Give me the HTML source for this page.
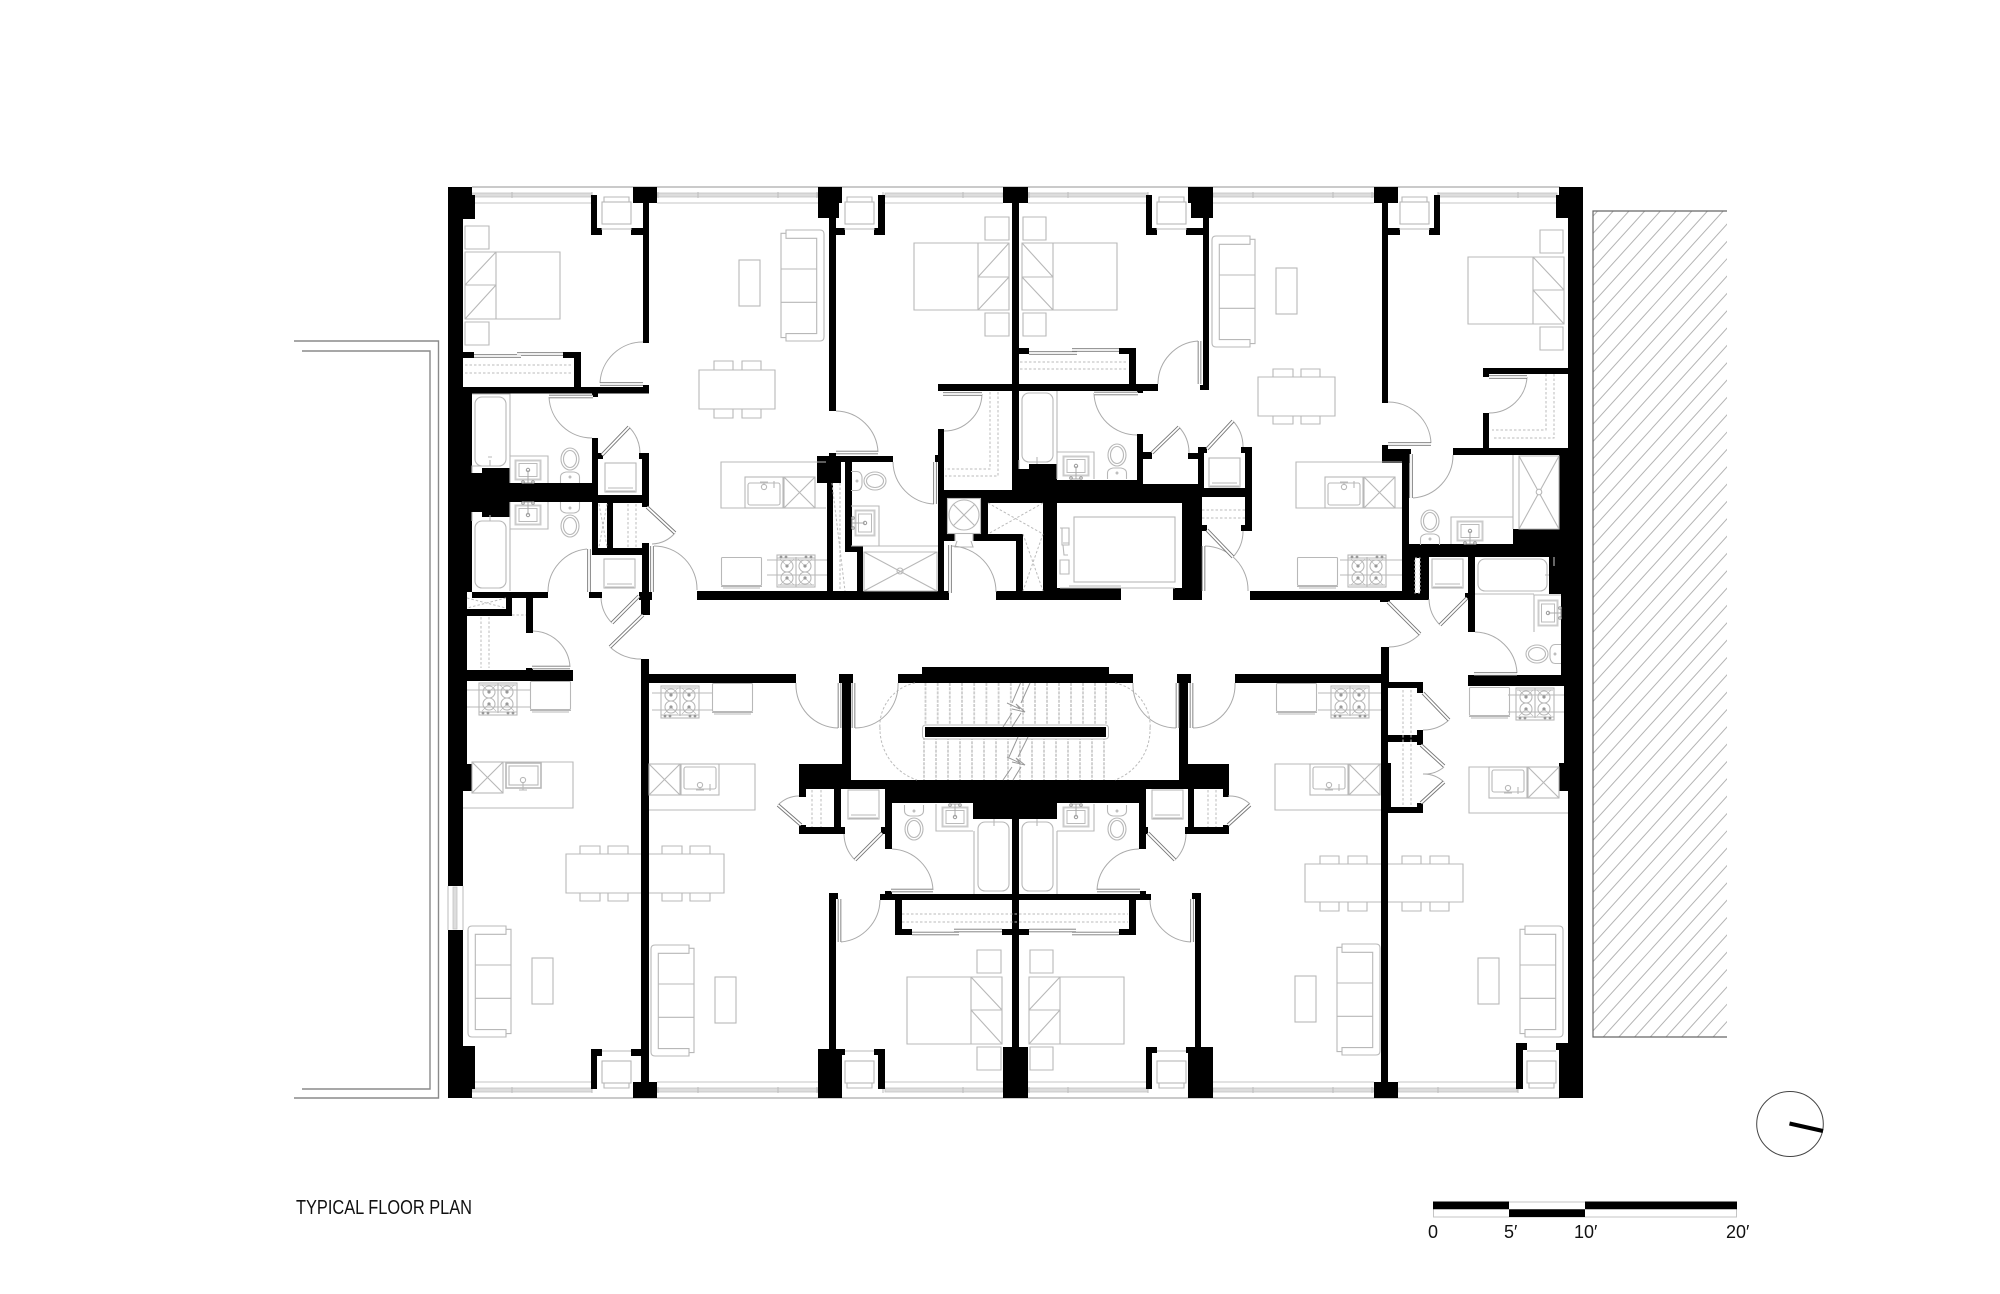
<!DOCTYPE html>
<html><head><meta charset="utf-8"><title>Typical Floor Plan</title>
<style>html,body{margin:0;padding:0;background:#fff}svg{display:block}
.g{fill:none;stroke:#b8b8b8;stroke-width:1.1}
.d{fill:none;stroke:#bbb;stroke-width:1;stroke-dasharray:2.5 2}
.a{fill:none;stroke:#aaa;stroke-width:1}
text{font-family:"Liberation Sans",sans-serif;fill:#111}
</style></head><body>
<svg xmlns="http://www.w3.org/2000/svg" width="2000" height="1294" viewBox="0 0 2000 1294">
<defs>
<clipPath id="hc"><rect x="1593" y="211" width="134" height="826"/></clipPath>
<g id="sofa" class="g"><path d="M4 0H38V3.3H43V107.6H38V111H4Q0 111 0 107V4Q0 0 4 0ZM38 3.3V8.3H7.3V103.6H38V107.6M7.3 39H43M7.3 72.3H43"/></g>
<g id="st" class="g"><rect width="38" height="32"/><path d="M19 0V30M1 2L37 2M0 29H38"/><circle cx="10" cy="9" r="6"/><circle cx="28" cy="9" r="6"/><circle cx="10" cy="21" r="6"/><circle cx="28" cy="21" r="6"/><path d="M3 2L10 9L17 2M21 2L28 9L35 2M3 28L10 21L17 28M21 28L28 21L35 28" stroke-width=".7"/><g fill="#999" stroke="none"><circle cx="10" cy="9" r="1.6"/><circle cx="28" cy="9" r="1.6"/><circle cx="10" cy="21" r="1.6"/><circle cx="28" cy="21" r="1.6"/><circle cx="4" cy="30" r="1.4"/><circle cx="9" cy="30" r="1.4"/><circle cx="29" cy="30" r="1.4"/><circle cx="34" cy="30" r="1.4"/></g></g>
<g id="fr" class="g"><rect x=".5" y=".5" width="40" height="28" rx="1"/><path d="M0 29.5H41M2 31H39"/></g>
<g id="un" class="g"><rect x="1" y="1" width="31" height="29"/><path d="M2 29H31M4 26H29M1 30H32"/></g>
<g id="ac" class="g"><rect width="29" height="22" y="5"/><path d="M2 5V0H27V5M-1 32H30"/></g>
<g id="v" fill="none"><rect x="-12.5" y="-9.5" width="25" height="19" stroke="#ccc" stroke-width="2"/><rect x="-9" y="-6.5" width="18" height="13" stroke="#bbb"/><circle r="1.7" stroke="#999"/><path d="M0 0V13M-5 13H5" stroke="#aaa"/><circle cx="-5" cy="12" r="1.3" stroke="#999"/><circle cx="5" cy="12" r="1.3" stroke="#999"/></g>
<g id="t" class="g"><ellipse rx="9" ry="11"/><ellipse rx="6.5" ry="8.5"/><path d="M-9.5 24V18Q-9.5 14 -4 13H4Q9.5 14 9.5 18V24"/><circle cy="18" r=".9"/></g>
<g id="dw" class="g"><rect width="31" height="31"/><path d="M0 0L31 31M31 0L0 31"/></g>
<g id="ks" class="g"><rect width="38" height="31"/><rect x="3" y="6" width="32" height="22" rx="2"/><circle cx="19" cy="10" r="2.6"/><path d="M15 5H23M19 5V8M29 4V11"/></g>
<g id="lv" fill="none"><path d="M600 384H643M549 396.5H593M602 455L629 427M647 507L675 533M589 549V592M652 546V592M639 596L612 623M643 615L610 647M532 667.5H570M474 356H521M517 354H563M836 452.5H878M943 394H982M935 462V504M1094 393.5H1138M1152 453L1179 427M1207 449L1233 421M1199.5 341V384M950 545V593M1207 530L1233 557M1203.5 546V591M839.5 683V728M853.5 683V728M1177.5 683V728M1191.5 683V728M1388 444H1431M1489 377H1527M1411 454V498M1388 602L1420 634M1467 598L1440 625M1474 674H1517M1423 693L1449 720M1421 745L1444 766M1421 803L1444 782M839.5 899V942M1192 899V942M891 890.5H933M1097 890.5H1140M882 833L855 860M1148 833L1175 860M801 825L778 805M1228 825L1250 805M912 933.5H959M954 930.5H1002M1029 930.5H1076M1072 933.5H1119M1029 353H1077M1072 350H1119"/></g>
</defs>
<rect width="2000" height="1294" fill="#fff"/>

<!-- balcony -->
<path d="M294 341H438.5V1098H294M302 351H430V1089H302" fill="none" stroke="#8a8a8a" stroke-width="1.4"/>
<!-- hatch -->
<g clip-path="url(#hc)"><path fill="none" stroke="#b4b4b4" stroke-width="1" d="M1597.6 211l-748 826m763.7-826l-748 826m763.7-826l-748 826m763.7-826l-748 826m763.7-826l-748 826m763.7-826l-748 826m763.7-826l-748 826m763.7-826l-748 826m763.7-826l-748 826m763.7-826l-748 826m763.7-826l-748 826m763.7-826l-748 826m763.7-826l-748 826m763.7-826l-748 826m763.7-826l-748 826m763.7-826l-748 826m763.7-826l-748 826m763.7-826l-748 826m763.7-826l-748 826m763.7-826l-748 826m763.7-826l-748 826m763.7-826l-748 826m763.7-826l-748 826m763.7-826l-748 826m763.7-826l-748 826m763.7-826l-748 826m763.7-826l-748 826m763.7-826l-748 826m763.7-826l-748 826m763.7-826l-748 826m763.7-826l-748 826m763.7-826l-748 826m763.7-826l-748 826m763.7-826l-748 826m763.7-826l-748 826m763.7-826l-748 826m763.7-826l-748 826m763.7-826l-748 826m763.7-826l-748 826m763.7-826l-748 826m763.7-826l-748 826m763.7-826l-748 826m763.7-826l-748 826m763.7-826l-748 826m763.7-826l-748 826m763.7-826l-748 826m763.7-826l-748 826m763.7-826l-748 826m763.7-826l-748 826m763.7-826l-748 826m763.7-826l-748 826m763.7-826l-748 826m763.7-826l-748 826m763.7-826l-748 826m763.7-826l-748 826m763.7-826l-748 826m763.7-826l-748 826m763.7-826l-748 826m763.7-826l-748 826m763.7-826l-748 826m763.7-826l-748 826m763.7-826l-748 826m763.7-826l-748 826"/></g>
<path d="M1727 211H1593V1037H1727" fill="none" stroke="#666" stroke-width="1.2"/>

<!-- glazing -->
<g>
<path d="M472 187H1560M472 1098H1560" stroke="#aaa" stroke-width="1.2" fill="none"/>
<g fill="#ddd" stroke="#c4c4c4" stroke-width=".8">
<rect x="472" y="193" width="120" height="4"/><rect x="657" y="193" width="161" height="4"/><rect x="885" y="193" width="118" height="4"/><rect x="1028" y="193" width="120" height="4"/><rect x="1213" y="193" width="161" height="4"/><rect x="1438" y="193" width="119" height="4"/>
<rect x="472" y="1088" width="120" height="4"/><rect x="657" y="1088" width="161" height="4"/><rect x="885" y="1088" width="118" height="4"/><rect x="1028" y="1088" width="120" height="4"/><rect x="1213" y="1088" width="161" height="4"/><rect x="1398" y="1088" width="119" height="4"/>
</g>
<path d="M475 203H592M657 203H818M885 203H1003M1028 203H1148M1213 203H1374M1438 203H1557M475 1082H592M657 1082H818M885 1082H1003M1028 1082H1148M1213 1082H1374M1398 1082H1517" stroke="#c4c4c4" fill="none"/>
<path d="M512 192v6M592 192v6M658 192v6M698 192v6M778 192v6M817 192v6M883 192v6M963 192v6M1029 192v6M1068 192v6M1148 192v6M1253 192v6M1333 192v6M1372 192v6M1438 192v6M1518 192v6M512 1087v6M592 1087v6M658 1087v6M698 1087v6M778 1087v6M817 1087v6M883 1087v6M963 1087v6M1029 1087v6M1068 1087v6M1148 1087v6M1253 1087v6M1333 1087v6M1372 1087v6M1438 1087v6M1518 1087v6" stroke="#bbb" fill="none"/>
<path d="M448 886V930M463 886V930" stroke="#bbb" fill="none"/><rect x="453" y="887" width="4" height="42" fill="#ddd" stroke="#c4c4c4" stroke-width=".8"/>
</g>

<!-- walls -->
<path fill="#000" d="
M448 187H472V195H448ZM448 195H475V219H448ZM448 219H463V393H448ZM448 393H472V592H448ZM448 592H467V764H448ZM448 764H472V791H448ZM448 791H463V886H448ZM448 930H463V1046H448ZM448 1046H475V1089H448ZM448 1089H472V1098H448Z
M463 352H474V358H463ZM563 352H581V358H563ZM574 358H581V388H574ZM463 387H649V393.5H463ZM643 385H649V393H643ZM592 393H598V397H592Z
M633 187H657V203H633ZM643 203H649V343H643ZM591 195H597V235H591ZM591 228H602V235H591ZM631 228H643V235H631Z
M592 438H598V555H592ZM598 453H603V459H598ZM639 453H649V459H639ZM642 453H649V507H642Z
M472 473H482V512H472ZM482 468H510V517H482ZM510 483H592V502H510ZM592 495H649V503H592ZM607 503H613V548H607ZM592 548H642V555H592Z
M642 543H649V600H642ZM639 592H652V600H639ZM641 600H650V615H641ZM641 659H649V1082H641ZM633 1082H657V1098H633ZM589 592H602V598H589ZM472 592H548V598H472ZM467 609H512V616H467ZM506 598H512V616H506ZM526 598H533V633H526ZM467 670H573V681H467ZM526 668H533V672H526Z
M649 674H796V683H649ZM697 591H949V600H697Z
M818 187H842V203H818ZM818 203H839V218H818ZM829 218H836V411H829ZM829 228H845V235H829ZM874 228H885V235H874ZM878 195H885V235H878Z
M817 456H893V462H817ZM817 462H841V483H817ZM829 453H836V456H829ZM845 462H852V552H845ZM827 483H833V591H827ZM845 546H863V552H845ZM857 546H863V591H857Z
M938 429H944V490H938ZM935 455H938V462H935ZM1012 203H1019V490H1012ZM1003 187H1028V203H1003ZM938 384H1158V391H938ZM1137 390H1143V393H1137ZM1019 348H1029V354H1019ZM1119 348H1136V354H1119ZM1129 348H1136V385H1129Z
M1019 469H1029V490H1019ZM1029 464H1057V490H1029ZM1057 480H1143V490H1057ZM1137 434H1143V480H1137ZM1143 452H1152V459H1143ZM1143 484H1198V490H1143Z
M938 490H1202V600H938Z
M1198 447H1204V490H1198ZM1198 447H1207V453H1198ZM1188 453H1198V459H1188ZM1202 488H1252V497H1202ZM1245 447H1252V531H1245ZM1241 447H1252V453H1241ZM1241 525H1252V531H1241ZM1201 525H1207V531H1201Z
M1188 187H1213V203H1188ZM1191 203H1213V218H1191ZM1203 218H1209V390H1203ZM1200 385H1209V390H1200ZM1186 228H1203V235H1186ZM1146 195H1152V235H1146ZM1146 228H1157V235H1146Z
M1374 187H1398V203H1374ZM1382 203H1388V403H1382ZM1388 228H1400V235H1388ZM1434 195H1440V235H1434ZM1429 228H1440V235H1429Z
M1559 187H1583V195H1559ZM1556 195H1583V218H1556ZM1568 218H1583V455H1568ZM1559 455H1583V545H1559ZM1549 557H1583V594H1549ZM1561 594H1583V677H1561ZM1564 677H1583V763H1564ZM1559 763H1583V791H1559ZM1568 791H1583V1043H1568ZM1556 1043H1583V1050H1556ZM1559 1050H1583V1098H1559Z
M1483 368H1568V374H1483ZM1483 368H1489V377H1483ZM1483 413H1489V452H1483ZM1453 448H1568V455H1453Z
M1382 445H1388V449H1382ZM1382 449H1411V463H1382ZM1402 463H1409V591H1402ZM1513 529H1560V545H1513ZM1402 544H1583V557H1402ZM1402 557H1429V600H1402ZM1250 591H1429V600H1250ZM1380 600H1390V602H1380ZM1468 557H1475V632H1468ZM1465 593H1468V599H1465Z
M1381 647H1389V683H1381ZM1381 683H1388V1082H1381ZM1374 1082H1398V1098H1374ZM1235 674H1381V683H1235ZM1388 682H1423V688H1388ZM1417 682H1423V693H1417ZM1468 675H1564V686H1468ZM1388 735H1423V742H1388ZM1417 730H1423V745H1417ZM1381 763H1391V810H1381ZM1388 807H1423V813H1388ZM1417 803H1423V813H1417ZM1516 1043H1523V1089H1516ZM1516 1043H1527V1050H1516Z
M591 1049H597V1089H591ZM591 1049H602V1056H591ZM631 1049H641V1056H631Z
M818 1049H842V1098H818ZM829 893H836V1049H829ZM829 893H838V899H829ZM842 1049H845V1055H842ZM874 1049H885V1055H874ZM878 1049H885V1089H878ZM1012 814H1019V1047H1012ZM1003 1047H1028V1098H1003ZM1002 929H1029V935H1002ZM1146 1047H1152V1089H1146ZM1146 1047H1157V1053H1146ZM1188 1047H1213V1098H1188ZM1186 1047H1188V1053H1186ZM1195 893H1201V1047H1195ZM1192 893H1201V899H1192Z
M880 894H1151V900H880ZM885 891H892V894H885ZM1140 891H1146V894H1140ZM895 900H902V935H895ZM895 929H912V935H895ZM1129 900H1136V935H1129ZM1119 929H1136V935H1119Z
M898 674H1133V683H898ZM922 667H1109V674H922ZM839 674H853V683H839ZM1177 674H1191V683H1177ZM842 683H851V764H842ZM1179 683H1188V764H1179ZM799 764H851V789H799ZM1179 764H1229V789H1179ZM851 780H1179V789H851ZM885 789H1146V803H885ZM973 803H1057V819H973ZM1002 814H1029V819H1002Z
M885 803H892V849H885ZM881 827H885V834H881ZM1139 803H1146V849H1139ZM1146 827H1148V834H1146ZM799 789H806V797H799ZM834 789H841V834H834ZM799 827H845V834H799ZM799 825H806V827H799ZM1188 789H1194V834H1188ZM1185 827H1229V834H1185ZM1223 789H1229V797H1223ZM1223 825H1229V827H1223Z
M925 727H1106V737H925Z"/>
<!-- cut-outs -->
<g fill="#fff">
<rect x="947" y="498" width="34" height="36"/><rect x="955" y="534" width="18" height="8"/>
<rect x="944" y="541" width="72" height="50"/><rect x="949" y="590" width="47" height="11"/>
<rect x="988" y="503" width="55" height="31"/><rect x="1023" y="533" width="20" height="58"/>
<rect x="1057" y="503" width="125" height="85"/><rect x="1121" y="587" width="52" height="14"/>
<rect x="1415" y="558" width="5" height="35"/>
</g>
<rect x="1415" y="558" width="5" height="35" fill="none" stroke="#bbb" stroke-dasharray="2 2"/>

<!-- beds -->
<path class="g" d="M465 252H560V319H465ZM496 252V319M465 285H496M465 285L496 252M465 319L496 285M465 226H489V249H465ZM465 322H489V345H465Z"/>
<path class="g" d="M914 243H1009V310H914ZM978 243V310M978 277H1009M978 277L1009 243M978 310L1009 277M985 217H1009V240H985ZM985 313H1009V336H985Z"/>
<path class="g" d="M1022 243H1117V310H1022ZM1053 243V310M1022 277H1053M1022 243L1053 277M1022 277L1053 310M1023 217H1046V240H1023ZM1023 313H1046V336H1023Z"/>
<path class="g" d="M1468 257H1564V324H1468ZM1533 257V324M1533 290H1564M1533 257L1564 290M1533 290L1564 324M1540 230H1563V253H1540ZM1540 327H1563V350H1540Z"/>
<path class="g" d="M907 977H1002V1044H907ZM971 977V1044M971 1010H1002M971 977L1002 1010M971 1010L1002 1044M977 950H1001V973H977ZM977 1047H1001V1070H977Z"/>
<path class="g" d="M1029 977H1124V1044H1029ZM1060 977V1044M1029 1010H1060M1029 1010L1060 977M1029 1044L1060 1010M1030 950H1053V973H1030ZM1030 1047H1053V1070H1030Z"/>

<!-- HVAC units -->
<use href="#ac" x="602" y="197"/><use href="#ac" x="845" y="197"/><use href="#ac" x="1157" y="197"/><use href="#ac" x="1400" y="197"/>
<g class="g"><rect x="602" y="1061" width="29" height="22"/><rect x="845" y="1061" width="29" height="22"/><rect x="1157" y="1061" width="29" height="22"/><rect x="1527" y="1061" width="29" height="22"/><path d="M604 1083V1088H629V1083M847 1083V1088H872V1083M1159 1083V1088H1184V1083M1529 1083V1088H1554V1083M602 1051H631M845 1051H874M1157 1051H1186M1527 1051H1556"/></g>

<!-- sofas -->
<use href="#sofa" transform="translate(824 230) scale(-1 1)"/>
<use href="#sofa" x="1212" y="236"/>
<use href="#sofa" x="468" y="926"/>
<use href="#sofa" x="651" y="945"/>
<use href="#sofa" transform="translate(1380 944) scale(-1 1)"/>
<use href="#sofa" transform="translate(1563 926) scale(-1 1)"/>

<!-- coffee tables + dining -->
<g class="g">
<rect x="739" y="260" width="21" height="46"/><rect x="1276" y="268" width="21" height="46"/><rect x="532" y="958" width="21" height="46"/><rect x="715" y="977" width="21" height="46"/><rect x="1295" y="976" width="21" height="46"/><rect x="1478" y="958" width="21" height="46"/>
<path d="M699 370H775V409H699ZM714 370V361H733V370M742 370V361H761V370M714 409V418H733V409M742 409V418H761V409"/>
<path d="M1258 377H1335V416H1258ZM1273 377V369H1293V377M1301 377V369H1320V377M1273 416V424H1293V416M1301 416V424H1320V416"/>
<path d="M641 854H566V893H641M580 854V846H600V854M608 854V846H628V854M580 893V901H600V893M608 893V901H628V893"/>
<path d="M649 854H724V893H649M662 854V846H682V854M690 854V846H710V854M662 893V901H682V893M690 893V901H710V893"/>
<path d="M1381 864H1305V902H1381M1320 864V856H1339V864M1348 864V856H1367V864M1320 902V911H1339V902M1348 902V911H1367V902"/>
<path d="M1388 864H1463V902H1388M1402 864V856H1421V864M1430 864V856H1449V864M1402 902V911H1421V902M1430 902V911H1449V902"/>
<!-- islands -->
<path d="M826 462H721V508H826"/><path d="M1402 462H1296V508H1402"/>
<path d="M472 762H573V808H463"/><path d="M649 764H755V810H649"/>
<path d="M1381 764H1275V810H1381"/><path d="M1559 767H1469V813H1568"/>
<path d="M467 690H530M467 707H530M652 693H712M652 710H712M767 560H827M767 575H827M1340 560H1402M1340 575H1402M1318 693H1381M1318 710H1381M1508 695H1564M1508 712H1564"/>
</g>
<use href="#dw" x="784" y="477"/><use href="#ks" x="745" y="477"/>
<use href="#dw" x="1364" y="477"/><use href="#ks" x="1325" y="477"/>
<use href="#dw" x="472" y="762"/><g class="g"><rect x="506" y="763" width="35" height="25" stroke-width="1.6"/><rect x="509" y="766" width="29" height="19"/><circle cx="523" cy="780" r="2.6"/><path d="M523 783V790M519 790H527"/></g>
<use href="#dw" x="649" y="764"/><use href="#ks" transform="translate(681 795) scale(1 -1)"/>
<use href="#dw" x="1349" y="764"/><use href="#ks" transform="translate(1310 795) scale(1 -1)"/>
<use href="#dw" x="1528" y="767"/><use href="#ks" transform="translate(1489 798) scale(1 -1)"/>

<!-- stoves & fridges -->
<use href="#st" x="479" y="683"/><use href="#fr" x="530" y="681"/>
<use href="#st" x="661" y="686"/><use href="#fr" x="712" y="683"/>
<use href="#st" transform="translate(777 587) scale(1 -1)"/><use href="#fr" transform="translate(721 557)"/>
<use href="#st" transform="translate(1348 587) scale(1 -1)"/><use href="#fr" x="1297" y="557"/>
<use href="#st" x="1331" y="686"/><use href="#fr" x="1276" y="683"/>
<use href="#st" transform="translate(1516 688)"/><use href="#fr" x="1469" y="687"/>

<!-- tubs -->
<g class="g">
<rect x="475" y="397" width="31" height="69" rx="7"/><path d="M472 394H510V456M472 473V466H482M490 460V466M488 457h4"/>
<rect x="475" y="521" width="31" height="67" rx="7"/><path d="M510 529V591M472 512V521M490 515V521"/>
<rect x="1022" y="393" width="31" height="69" rx="7"/><path d="M1057 391V452M1019 469V460M1037 457V464"/>
<rect x="978" y="822" width="31" height="69" rx="7"/><path d="M974 831V894M994 819V826"/>
<rect x="1022" y="822" width="31" height="69" rx="7"/><path d="M1057 831V894M1037 819V826"/>
<rect x="1478" y="559" width="69" height="32" rx="7"/><path d="M1475 594H1534M1545 575H1549M1554 557V566"/>
<!-- vanities -->
<path d="M510 483V456H548V483M510 502V529H548V502M1057 479V452H1094V479M851 546H879V506H851M936 804V831H973M1057 831H1094V804M1451 544V517H1513M1534 632V595H1561"/>
<!-- showers -->
<path d="M864 552H937V591H864ZM864 552L937 591M937 552L864 591M851 546H938"/>
<circle cx="900" cy="571" r="3" class="g" fill="#fff"/>
<path d="M1519 456H1559V529H1519ZM1519 456L1559 529M1559 456L1519 529M1513 455V529"/>
<circle cx="1539" cy="492" r="2.8" fill="#fff"/>
<!-- shaft -->
<rect x="947.5" y="498.5" width="33" height="35"/><circle cx="964" cy="515" r="15"/><path d="M953 504L975 526M975 504L953 526M955 534V541M973 534V541M957 541L955 547H973L971 541"/>
<!-- elevator -->
<rect x="1074" y="517" width="101" height="65"/><path d="M1069 586H1121M1121 588H1173M1060 588H1175"/>
<path d="M1060 528H1069V545H1062V528M1060 560H1069V574H1060ZM1063 545L1064 555H1068M1063 543H1069"/>
</g>
<path class="d" d="M988 503L1043 534M1043 503L988 534M1023 534L1043 591M1043 534L1023 591"/>

<use href="#t" transform="translate(570 459)"/><use href="#t" transform="translate(570 526) rotate(180)"/>
<use href="#t" transform="translate(1117 455)"/><use href="#t" transform="translate(875 481) rotate(90)"/>
<use href="#t" transform="translate(1430 521)"/><use href="#t" transform="translate(1537 654) rotate(-90)"/>
<use href="#t" transform="translate(914 829) rotate(180)"/><use href="#t" transform="translate(1117 829) rotate(180)"/>
<use href="#v" transform="translate(528 470)"/><use href="#v" transform="translate(528 515) rotate(180)"/>
<use href="#v" transform="translate(1076 466)"/><use href="#v" transform="translate(865 523) rotate(90)"/>
<use href="#v" transform="translate(1470 531)"/><use href="#v" transform="translate(1548 613) rotate(-90)"/>
<use href="#v" transform="translate(955 817) rotate(180)"/><use href="#v" transform="translate(1076 817) rotate(180)"/>

<use href="#un" x="604" y="462"/><use href="#un" transform="translate(603 558)"/><use href="#un" x="1208" y="457"/><use href="#un" x="1431" y="558"/><use href="#un" x="847" y="789"/><use href="#un" x="1151" y="789"/>

<!-- dashed closets -->
<path class="d" d="M465 365H573M465 373H573M1020 362H1128M1020 369H1128M902 914H1128M902 922H1128M990 392V469H945M998 392V476H945M1546 374V430H1492M1554 374V438H1492M628 504V547M636 504V547M599 504L607 547M607 504L599 547M481 617V668M489 617V668M467 598L506 608M506 598L467 608M840 483V591M832 483L845 591M1403 690V807M1411 690V807M812 790V827M821 790V827M1208 790V827M1216 790V827M1202 510H1245M1202 518H1245M512 615H526"/>

<!-- stairs -->
<g>
<path fill="none" stroke="#cdcdcd" stroke-width="1.8" stroke-dasharray="3 1.2" d="M925.5 683V727M937.7 683V727M949.8 683V727M962 683V727M974.2 683V727M986.4 683V727M998.6 683V727M1010.8 683V727M1023 683V727M1035 683V727M1047 683V727M1059 683V727M1071 683V727M1083 683V727M1095 683V727M1106 683V727M924 737V780M936 737V780M948 737V780M960 737V780M972 737V780M984 737V780M996 737V780M1008 737V780M1020 737V780M1032 737V780M1044 737V780M1056 737V780M1068 737V780M1080 737V780M1092 737V780M1104 737V780"/>
<rect x="922.5" y="725" width="186" height="14" rx="3" fill="#fff" stroke="#bbb"/>
<rect x="925" y="727" width="181" height="10" fill="#000"/>
<path fill="none" stroke="#999" stroke-width="1" d="M1020.5 683L1012 703M1030 683L1021 703M1012 713L1003 727M1021 713L1012 727M1007 703L1020 709L1016 704L1025 712L1012 709M1028 737L1018 757M1018 737L1009 757M1012 767L1003 780M1021 767L1013 780M1007 757L1020 763L1016 758L1025 765L1012 762"/>
<path class="d" d="M915 683A44 44 0 0 0 880 730M880 727A54 54 0 0 0 917 780M1115 683A44 44 0 0 1 1150 730M1150 727A54 54 0 0 1 1115 780"/>
</g>

<!-- door swings -->
<path class="a" d="M600 383A43 43 0 0 1 643 342M549 397A43 43 0 0 0 592 438M629 427A38 38 0 0 1 640 453M675 533A32 32 0 0 1 652 544M587 549A43 43 0 0 0 548 592M654 546A43 43 0 0 1 697 590M612 623A38 38 0 0 1 601 598M610 647A44 44 0 0 0 641 659M570 667A38 38 0 0 0 533 631M878 452A43 43 0 0 0 836 411M982 394A38 38 0 0 1 944 431M893 462A43 43 0 0 0 934 504M1094 393A43 43 0 0 0 1137 435M1179 427A38 38 0 0 1 1189 453M1233 421A38 38 0 0 1 1243 447M1198 341A43 43 0 0 0 1158 384M952 546A46 46 0 0 1 996 592M1233 557A38 38 0 0 0 1243 531M1205 546A44 44 0 0 1 1248 591M796 683A43 43 0 0 0 838 728M855 728A43 43 0 0 0 898 683M1133 683A43 43 0 0 0 1176 728M1193 728A43 43 0 0 0 1235 683M1431 443A43 43 0 0 0 1388 402M1527 377A38 38 0 0 1 1489 413M1413 498A43 43 0 0 0 1453 455M1420 634A44 44 0 0 1 1389 647M1440 625A38 38 0 0 1 1429 599M1517 673A43 43 0 0 0 1475 632M1449 720A38 38 0 0 1 1423 730M1444 767A30 30 0 0 1 1423 774M1444 782A30 30 0 0 0 1423 774M841 942A43 43 0 0 0 880 900M1191 942A43 43 0 0 1 1150 900M933 890A43 43 0 0 0 892 849M1097 890A43 43 0 0 1 1139 849M855 860A38 38 0 0 1 844 834M1175 860A38 38 0 0 0 1186 834M778 805A30 30 0 0 1 799 796M1250 804A30 30 0 0 0 1228 796"/>
<!-- door leaves -->
<use href="#lv" stroke="#777" stroke-width="3.6"/>
<use href="#lv" stroke="#fff" stroke-width="1.8"/>

<!-- compass -->
<ellipse cx="1790" cy="1124" rx="33.3" ry="32.5" fill="none" stroke="#444" stroke-width="1"/>
<line x1="1789.5" y1="1123.5" x2="1823" y2="1131" stroke="#000" stroke-width="4"/>

<!-- scale -->
<rect x="1433.5" y="1202" width="303" height="15" fill="none" stroke="#c4c4c4"/>
<path fill="#000" d="M1433 1201.5H1509V1209.3H1433ZM1509 1209.3H1585V1217H1509ZM1585 1201.5H1737V1209.3H1585Z"/>
<text x="1433" y="1238" font-size="18" text-anchor="middle">0</text>
<text x="1504" y="1238" font-size="18">5′</text>
<text x="1574" y="1238" font-size="18">10′</text>
<text x="1726" y="1238" font-size="18">20′</text>
<text x="296" y="1214" font-size="20" textLength="176" lengthAdjust="spacingAndGlyphs">TYPICAL FLOOR PLAN</text>
</svg>
</body></html>
